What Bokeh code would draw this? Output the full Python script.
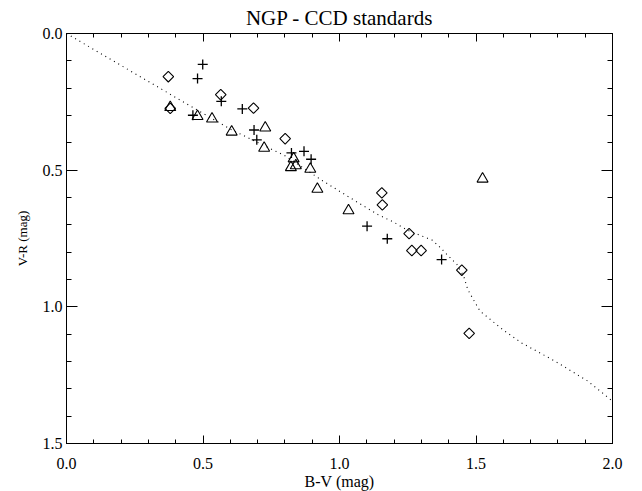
import numpy as np
from bokeh.plotting import figure
from bokeh.models import Range1d, LinearAxis, SingleIntervalTicker
from bokeh.embed import file_html
from bokeh.resources import INLINE

# ---- data ----
plus_bv = [0.499, 0.480, 0.567, 0.644, 0.463, 0.687, 0.697, 0.824, 0.870, 0.896, 1.101, 1.175, 1.374]
plus_vr = [0.113, 0.165, 0.248, 0.276, 0.299, 0.353, 0.389, 0.437, 0.431, 0.460, 0.705, 0.751, 0.827]

tri_bv = [0.380, 0.480, 0.533, 0.605, 0.728, 0.724, 0.832, 0.822, 0.840, 0.893, 0.919, 1.033, 1.524]
tri_vr = [0.270, 0.303, 0.312, 0.360, 0.345, 0.419, 0.458, 0.490, 0.483, 0.496, 0.569, 0.648, 0.532]

dia_bv = [0.373, 0.380, 0.565, 0.685, 0.801, 1.155, 1.157, 1.255, 1.265, 1.299, 1.448, 1.475]
dia_vr = [0.158, 0.274, 0.224, 0.273, 0.385, 0.583, 0.627, 0.732, 0.794, 0.794, 0.866, 1.097]

line_bv = [0.0, 0.2, 0.4, 0.6, 0.8, 0.94, 1.06, 1.14, 1.20, 1.25, 1.29, 1.34, 1.37, 1.40,
           1.43, 1.455, 1.47, 1.49, 1.515, 1.545, 1.60, 1.667, 1.79, 1.91, 2.0]
line_vr = [0.0, 0.117, 0.234, 0.350, 0.447, 0.540, 0.614, 0.662, 0.691, 0.720, 0.736, 0.756,
           0.784, 0.815, 0.845, 0.888, 0.937, 0.973, 1.016, 1.040, 1.085, 1.132, 1.199, 1.272, 1.345]

x_ticks = [0.0, 0.5, 1.0, 1.5, 2.0]
x_tick_labels = ["0.0", "0.5", "1.0", "1.5", "2.0"]
y_ticks = [0.0, 0.5, 1.0, 1.5]
y_tick_labels = ["0.0", "0.5", "1.0", "1.5"]

SERIF = "Liberation Serif"

p = figure(frame_width=546, frame_height=410,
           x_range=Range1d(0, 2), y_range=Range1d(1.5, 0),
           output_backend="svg", toolbar_location=None,
           min_border_left=66, min_border_right=20, min_border_top=0, min_border_bottom=0,
           title="NGP - CCD standards")
p.title.text_font = SERIF
p.title.text_font_size = "21px"
p.title.text_font_style = "normal"
p.title.text_color = "black"
p.title.align = "center"
p.title.offset = 0
p.title.standoff = 7
p.grid.visible = False
p.outline_line_color = "black"
p.outline_line_width = 1
p.background_fill_color = "white"
p.border_fill_color = "white"


def style_axis(ax, major_in, minor_in, labels):
    ax.ticker = SingleIntervalTicker(interval=0.5, num_minor_ticks=5)
    ax.axis_line_color = "black"
    ax.major_tick_line_color = "black"
    ax.minor_tick_line_color = "black"
    ax.major_tick_in = major_in
    ax.major_tick_out = 0
    ax.minor_tick_in = minor_in
    ax.minor_tick_out = 0
    ax.major_label_text_font = SERIF
    ax.major_label_text_color = "black"
    ax.major_label_text_font_size = "16px"
    ax.major_label_overrides = labels


xax = p.xaxis[0]
style_axis(xax, 8, 4, {t: l for t, l in zip(x_ticks, x_tick_labels)})
xax.major_label_standoff = 14
xax.axis_label = "B-V (mag)"
xax.axis_label_text_font = SERIF
xax.axis_label_text_font_style = "normal"
xax.axis_label_text_font_size = "16px"
xax.axis_label_text_color = "black"
xax.axis_label_standoff = 1

yax = p.yaxis[0]
style_axis(yax, 11, 5, {t: l for t, l in zip(y_ticks, y_tick_labels)})
yax.major_label_standoff = 4
yax.axis_label = "V-R (mag)"
yax.axis_label_text_font = SERIF
yax.axis_label_text_font_style = "normal"
yax.axis_label_text_font_size = "13px"
yax.axis_label_text_color = "black"
yax.axis_label_standoff = 10

top = LinearAxis()
style_axis(top, 8, 4, {t: "" for t in x_ticks})
top.major_label_standoff = 0
p.add_layout(top, "above")
right = LinearAxis()
style_axis(right, 11, 5, {t: "" for t in y_ticks})
right.major_label_standoff = 0
p.add_layout(right, "right")

p.line(line_bv, line_vr, line_color="black", line_width=1.1, line_dash="1 4")

p.scatter(plus_bv, plus_vr, marker="cross", size=10, line_color="black", line_width=1.3)
p.scatter(tri_bv, tri_vr, marker="triangle", size=11, fill_color=None, line_color="black", line_width=1.1)
p.scatter(dia_bv, dia_vr, marker="square", angle=np.pi / 4, size=7.5, fill_color=None,
          line_color="black", line_width=1.1)

open("out.html", "w").write(file_html(p, INLINE))
